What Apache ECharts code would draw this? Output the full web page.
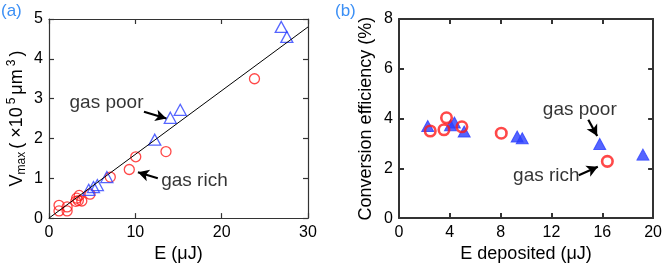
<!DOCTYPE html>
<html><head><meta charset="utf-8">
<script src="https://cdn.jsdelivr.net/npm/echarts@6/dist/echarts.min.js"></script>
<style>html,body{margin:0;padding:0;background:#fff}#c{width:665px;height:268px}</style>
</head><body><div id="c"></div>
<script>
// Panel (a): V_max vs E
const aRich = [[1.16,0.32],[1.16,0.18],[2.1,0.28],[2.1,0.18],[3.1,0.42],[3.2,0.5],[3.5,0.57],[3.4,0.44],[3.8,0.43],[4.75,0.6],[7.1,1.03],[9.3,1.22],[10.05,1.54],[13.55,1.67],[23.8,3.5]];
const aPoor = [[4.6,0.71],[5.15,0.78],[5.6,0.83],[6.7,1.03],[12.25,1.97],[14.05,2.52],[15.2,2.72],[26.9,4.8],[27.55,4.55]];
const aFit = [[0,0],[30,4.8]];
const aXTicks = [0,10,20,30];
const aYTicks = [0,1,2,3,4,5];
// Panel (b): conversion efficiency vs deposited energy
const bRich = [[2.46,3.5],[3.54,3.55],[3.74,4.03],[4.95,3.67],[8.05,3.41],[16.4,2.28]];
const bPoor = [[2.26,3.7],[4.05,3.73],[4.36,3.84],[5.13,3.48],[9.3,3.28],[9.7,3.21],[15.8,2.98],[19.2,2.55]];
const bXTicks = [0,4,8,12,16,20];
const bYTicks = [0,2,4,6,8];
// annotations (data coords)
const aNotes = [{text:'gas poor', at:[6.66,2.9], from:[11.0,2.67], to:[13.6,2.5]},
                {text:'gas rich', at:[16.85,0.94], from:[12.6,1.0], to:[10.3,1.15]}];
const bNotes = [{text:'gas poor', at:[14.23,4.37], from:[14.9,3.95], to:[15.6,3.3]},
                {text:'gas rich', at:[11.6,1.7], from:[14.15,1.72], to:[15.65,2.06]}];

const FONT = 'Liberation Sans, Arial, sans-serif';
const RED = '#ff1a1a', BLUE = '#2b3fff';
const chart = echarts.init(document.getElementById('c'), null, {renderer:'canvas'});

function axisPair(gridIndex, ticks, lineW, col, isX, main, name, nameGap, nameStyle) {
  const min = ticks[0], max = ticks[ticks.length-1], interval = ticks[1]-ticks[0];
  return {
    gridIndex, min, max, interval,
    position: isX ? (main ? 'bottom' : 'top') : (main ? 'left' : 'right'),
    name: main ? name : '', nameLocation:'middle', nameGap: nameGap,
    nameTextStyle: nameStyle,
    axisLine:{show:true, onZero:false, lineStyle:{color:col, width:lineW}},
    axisTick:{show:true, inside:true, length:5, lineStyle:{color:col, width:lineW}},
    axisLabel:{show:main, color:'#000', fontSize:16, fontFamily:FONT, margin:6},
    splitLine:{show:false}
  };
}
function noteSeries(notes, xi, yi) {
  return [{
    type:'scatter', xAxisIndex:xi, yAxisIndex:yi, symbolSize:0, silent:true,
    data: notes.map(n=>({value:n.at, name:n.text})),
    label:{show:true, position:'inside', formatter:p=>p.name, color:'#000', fontSize:19, fontFamily:FONT, align:'center', verticalAlign:'middle'},
    markLine:{silent:true, symbol:['none','arrow'], symbolSize:[9,11], animation:false,
      lineStyle:{color:'#000', width:2.2, type:'solid'}, label:{show:false},
      data: notes.map(n=>[{coord:n.from},{coord:n.to}])}
  }];
}

const option = {
  animation:false,
  grid:[{left:49, right:357, top:19, bottom:44},{left:399, right:6, top:19, bottom:44}],
  xAxis:[
    axisPair(0,aXTicks,1.2,'#333',true,true,'E (μJ)',25,{fontSize:18,fontFamily:FONT,color:'#000'}),
    axisPair(0,aXTicks,1.2,'#333',true,false),
    axisPair(1,bXTicks,2,'#333',true,true,'E deposited (μJ)',25,{fontSize:18,fontFamily:FONT,color:'#000'}),
    axisPair(1,bXTicks,2,'#333',true,false)
  ],
  yAxis:[
    axisPair(0,aYTicks,1.2,'#333',false,true,'{n|V}{s|max}{n|( ×10}{p|5}{n|μm}{p|3}{n|)}',20,
      {fontFamily:FONT,color:'#000',rich:{
        n:{fontSize:18,fontFamily:FONT,color:'#000',verticalAlign:'middle'},
        s:{fontSize:12,fontFamily:FONT,color:'#000',padding:[9,3,0,0]},
        p:{fontSize:12,fontFamily:FONT,color:'#000',padding:[0,3,11,3]}}}),
    axisPair(0,aYTicks,1.2,'#333',false,false),
    axisPair(1,bYTicks,2,'#333',false,true,'Conversion efficiency (%)',24,{fontSize:18,fontFamily:FONT,color:'#000'}),
    axisPair(1,bYTicks,2,'#333',false,false)
  ],
  graphic:[
    {type:'text', left:1, top:3, style:{text:'(a)', fontSize:17, fontFamily:FONT, fill:'#3b8ff5'}},
    {type:'text', left:335, top:3, style:{text:'(b)', fontSize:17, fontFamily:FONT, fill:'#3b8ff5'}}
  ],
  series:[
    {type:'line', xAxisIndex:0, yAxisIndex:0, data:aFit, showSymbol:false, symbol:'none', lineStyle:{color:'#000', width:1}},
    {type:'scatter', xAxisIndex:0, yAxisIndex:0, data:aRich, symbol:'circle', symbolSize:10,
      itemStyle:{color:'rgba(0,0,0,0)', borderColor:RED, borderWidth:1.3}},
    {type:'scatter', xAxisIndex:0, yAxisIndex:0, data:aPoor, symbol:'triangle', symbolSize:[12,11],
      itemStyle:{color:'rgba(0,0,0,0)', borderColor:BLUE, borderWidth:1.3}},
    {type:'scatter', xAxisIndex:2, yAxisIndex:2, data:bPoor, symbol:'triangle', symbolSize:[12,11],
      itemStyle:{color:BLUE, borderColor:BLUE, borderWidth:1}},
    {type:'scatter', xAxisIndex:2, yAxisIndex:2, data:bRich, symbol:'circle', symbolSize:10.5,
      itemStyle:{color:'rgba(0,0,0,0)', borderColor:RED, borderWidth:2.6}},
    ...noteSeries(aNotes,0,0),
    ...noteSeries(bNotes,2,2)
  ]
};
chart.setOption(option);
</script></body></html>
